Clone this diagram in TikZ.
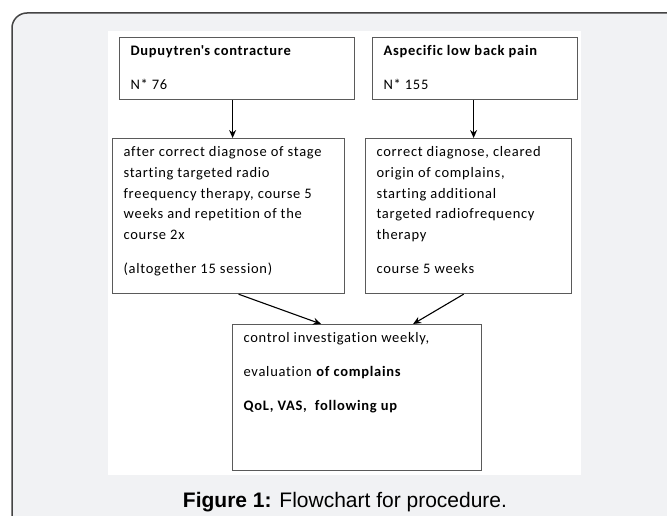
\documentclass[tikz,border=0pt]{standalone}
\usepackage{fontspec}
\setmainfont{Carlito}[LetterSpace=5, Ligatures={NoCommon}]
\newfontfamily\capfont{Liberation Sans}
\usetikzlibrary{arrows.meta}

\definecolor{panel}{HTML}{F1F2F4}
\definecolor{frameline}{HTML}{444444}
\definecolor{boxline}{HTML}{5A5A5A}

% top aligned text of fixed size inside a box
\newcommand{\cell}[3]{\parbox[c][#2][t]{#1}{\raggedright #3}}

\tikzset{
  box/.style={draw=boxline, line width=1.2pt, fill=white, anchor=north west,
    inner xsep=11pt, inner ysep=8pt, font=\fontsize{14.5}{20.7}\selectfont},
  arrow/.style={-{Stealth[length=8pt,width=7pt]}, line width=1.1pt}
}

\begin{document}
\begin{tikzpicture}[x=1pt,y=-1pt]
  \useasboundingbox (0,0) rectangle (667,516);
  \clip (0,0) rectangle (667,516);
  \filldraw[fill=panel, draw=frameline, line width=1.5pt, rounded corners=15pt]
      (12,13) rectangle (700,560);
  \fill[white] (108,31) rectangle (581,475);

  \node[box] (dup) at (119,37) {\cell{213pt}{46pt}{\textbf{Dupuytren\textquotesingle s contracture}\\[13pt] N* 76}};
  \node[box] (lbp) at (372,37) {\cell{183pt}{46pt}{\textbf{Aspecific low back pain}\\[13pt] N* 155}};
  \node[box] (rf1) at (112,138) {\cell{210pt}{139pt}{after correct diagnose of stage\\
      starting targeted radio\\ freequency therapy, course 5\\ weeks and repetition of the\\
      course 2x\\[13pt] (altogether 15 session)}};
  \node[box] (rf2) at (365,138) {\cell{184pt}{139pt}{correct diagnose, cleared\\ origin of complains,\\
      starting additional\\ targeted radiofrequency\\ therapy\\[13pt] course 5 weeks}};
  \node[box] (ctrl) at (232,324) {\cell{227pt}{130pt}{control investigation weekly,\\[13pt]
      evaluation \textbf{of complains}\\[13pt] \textbf{QoL, VAS,~ following up}}};

  \draw[arrow] ([xshift=-4.5pt]dup.south) -- ([xshift=-4.5pt]dup.south |- rf1.north);
  \draw[arrow] ([xshift=-1.5pt]lbp.south) -- ([xshift=-1.5pt]lbp.south |- rf2.north);
  \draw[arrow] ([xshift=10pt]rf1.south) -- ([xshift=-36pt]ctrl.north);
  \draw[arrow] ([xshift=-5pt]rf2.south) -- ([xshift=56pt]ctrl.north);

  \node[font=\capfont\fontsize{21}{24}\selectfont] (cap) at (345,502)
      {\textbf{Figure 1:} Flowchart for procedure.};
\end{tikzpicture}
\end{document}
